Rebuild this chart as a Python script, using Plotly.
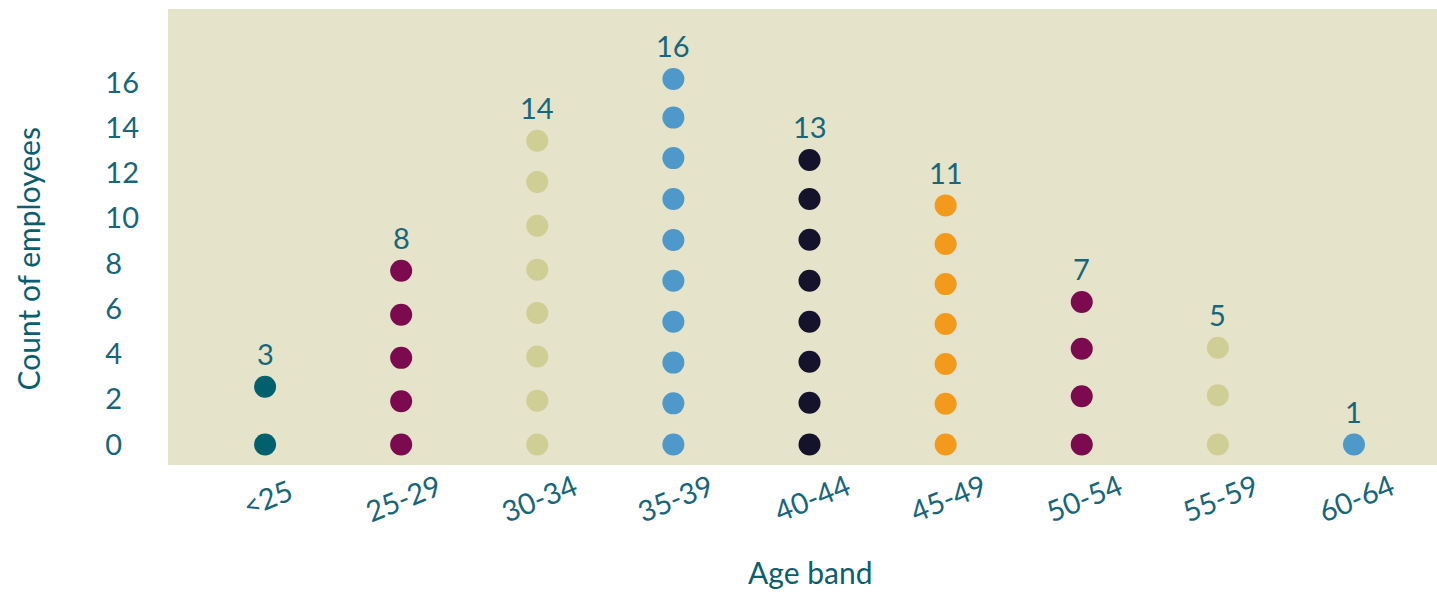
import plotly.graph_objects as go

# ---- data ----
categories = ["<25", "25-29", "30-34", "35-39", "40-44", "45-49", "50-54", "55-59", "60-64"]
counts = [3, 8, 14, 16, 13, 11, 7, 5, 1]

dots_lt25 = [0, 2.55]
dots_25_29 = [0, 1.91, 3.83, 5.74, 7.68]
dots_30_34 = [0, 1.94, 3.89, 5.81, 7.73, 9.67, 11.6, 13.43]
dots_35_39 = [0, 1.82, 3.62, 5.43, 7.24, 9.04, 10.85, 12.66, 14.45, 16.16]
dots_40_44 = [0, 1.85, 3.66, 5.43, 7.24, 9.05, 10.85, 12.58]
dots_45_49 = [0, 1.8, 3.56, 5.33, 7.09, 8.86, 10.57]
dots_50_54 = [0, 2.13, 4.23, 6.3]
dots_55_59 = [0, 2.18, 4.28]
dots_60_64 = [0]

dot_series = [dots_lt25, dots_25_29, dots_30_34, dots_35_39, dots_40_44,
              dots_45_49, dots_50_54, dots_55_59, dots_60_64]
colors = ["#00606E", "#7B0A4F", "#CFCE95", "#4E98CA", "#15122B",
          "#F39A1C", "#7B0A4F", "#CFCE95", "#4E98CA"]

y_ticks = [0, 2, 4, 6, 8, 10, 12, 14, 16]

FONT = "Lato"
TXT = "#17667A"
TITLE = "#0B5E6D"

fig = go.Figure()
for cat, ys, col in zip(categories, dot_series, colors):
    fig.add_trace(go.Scatter(
        x=[cat] * len(ys), y=ys, mode="markers",
        marker=dict(size=22, color=col, line=dict(width=0)),
        showlegend=False, hoverinfo="skip"))

annotations = []
# data labels above top dot
for cat, ys, c in zip(categories, dot_series, counts):
    annotations.append(dict(x=cat, y=max(ys), xref="x", yref="y", text=str(c),
                            showarrow=False, yshift=33,
                            font=dict(family=FONT, size=29, color=TXT)))
# rotated category labels
for cat in categories:
    annotations.append(dict(x=cat, y=-0.0713, xref="x", yref="paper", text=cat,
                            showarrow=False, textangle=-22, xshift=2,
                            xanchor="center", yanchor="middle",
                            font=dict(family=FONT, size=29, color=TXT)))
# axis titles
annotations.append(dict(x=0.5059, y=-0.2357, xref="paper", yref="paper", text="Age band",
                        showarrow=False, xanchor="center", yanchor="middle",
                        font=dict(family=FONT, size=30, color=TITLE)))
annotations.append(dict(x=-0.1103, y=0.4507, xref="paper", yref="paper",
                        text="Count of employees", textangle=-90,
                        showarrow=False, xanchor="center", yanchor="middle",
                        font=dict(family=FONT, size=30, color=TITLE)))

ticktext = [str(v) + "\u2007" * (2 - len(str(v))) for v in y_ticks]

fig.update_layout(
    width=1437, height=592,
    margin=dict(l=168, r=0, t=9, b=127),
    paper_bgcolor="white",
    plot_bgcolor="#E5E3CA",
    font=dict(family=FONT, color=TXT),
    annotations=annotations,
    xaxis=dict(type="category", categoryorder="array", categoryarray=categories,
               range=[-0.713, 8.61], showgrid=False, zeroline=False,
               showticklabels=False, showline=False, ticks=""),
    yaxis=dict(range=[-0.905, 19.25], tickvals=y_ticks, ticktext=ticktext,
               showgrid=False, zeroline=False, showline=False, ticks="",
               ticklabelstandoff=28,
               tickfont=dict(family=FONT, size=29, color=TXT)),
)

fig.write_html("out.html")
